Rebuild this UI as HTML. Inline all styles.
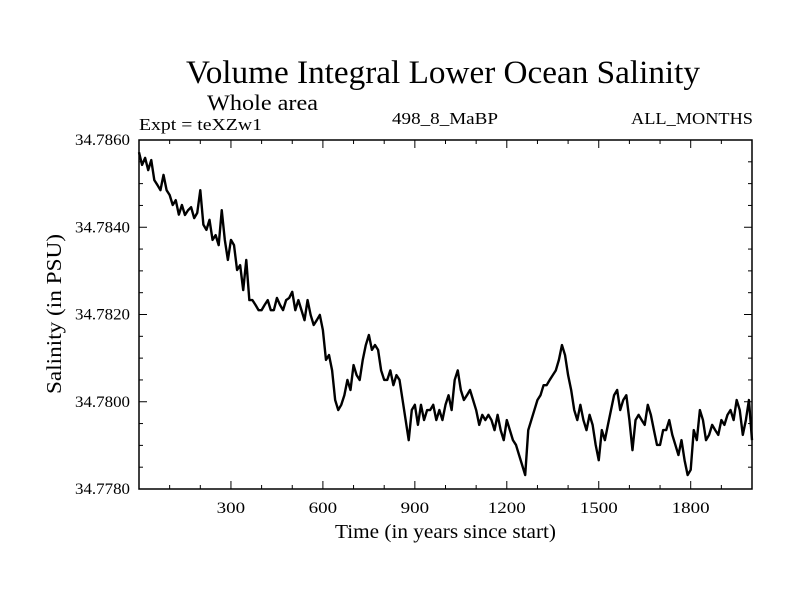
<!DOCTYPE html>
<html><head><meta charset="utf-8"><style>
html,body{margin:0;padding:0;background:#fff;}
svg{display:block;font-family:"Liberation Serif",serif;}
</style></head><body>
<svg id="chart" width="800" height="600" viewBox="0 0 800 600" xmlns="http://www.w3.org/2000/svg">
<text x="443" y="83" font-size="33" text-anchor="middle" textLength="514" lengthAdjust="spacingAndGlyphs">Volume Integral Lower Ocean Salinity</text>
<text x="207" y="110" font-size="22" textLength="111" lengthAdjust="spacingAndGlyphs">Whole area</text>
<text x="139" y="130" font-size="17" textLength="123" lengthAdjust="spacingAndGlyphs">Expt = teXZw1</text>
<text x="392" y="124" font-size="17" textLength="106" lengthAdjust="spacingAndGlyphs">498_8_MaBP</text>
<text x="631" y="124" font-size="17" textLength="122" lengthAdjust="spacingAndGlyphs">ALL_MONTHS</text>
<text x="335" y="538" font-size="20" textLength="221" lengthAdjust="spacingAndGlyphs">Time (in years since start)</text>
<text x="0" y="0" font-size="21" text-anchor="middle" textLength="160" lengthAdjust="spacingAndGlyphs" transform="translate(61,314) rotate(-90)">Salinity (in PSU)</text>
<g id="plot"></g>
</svg>
<script>
const years = [];
for (let i = 0; i <= 200; i++) years.push(i * 10);
const salinity = [34.78572,34.78543,34.78559,34.78531,34.78554,34.78508,34.78497,34.78485,34.78520,34.78485,
34.78474,34.78451,34.78462,34.78429,34.78451,34.78428,34.78439,34.78446,34.78421,34.78433,
34.78485,34.78406,34.78394,34.78417,34.78371,34.78382,34.78359,34.78439,34.78371,34.78325,
34.78371,34.78359,34.78302,34.78313,34.78256,34.78325,34.78233,34.78233,34.78222,34.78210,
34.78210,34.78222,34.78233,34.78210,34.78210,34.78238,34.78222,34.78210,34.78233,34.78238,
34.78252,34.78210,34.78233,34.78210,34.78187,34.78233,34.78199,34.78176,34.78187,34.78199,
34.78164,34.78096,34.78107,34.78072,34.78004,34.77981,34.77993,34.78015,34.78050,34.78027,
34.78084,34.78061,34.78050,34.78096,34.78130,34.78153,34.78119,34.78130,34.78119,34.78072,
34.78050,34.78050,34.78072,34.78038,34.78061,34.78050,34.78004,34.77958,34.77912,34.77981,
34.77993,34.77947,34.77993,34.77958,34.77981,34.77981,34.77993,34.77958,34.77981,34.77958,
34.77993,34.78015,34.77981,34.78050,34.78072,34.78027,34.78004,34.78015,34.78027,34.78004,
34.77981,34.77947,34.77970,34.77958,34.77970,34.77958,34.77935,34.77970,34.77935,34.77912,
34.77958,34.77935,34.77912,34.77901,34.77878,34.77855,34.77832,34.77935,34.77958,34.77981,
34.78004,34.78015,34.78038,34.78038,34.78050,34.78061,34.78072,34.78096,34.78130,34.78107,
34.78061,34.78027,34.77981,34.77958,34.77993,34.77958,34.77935,34.77970,34.77947,34.77901,
34.77866,34.77935,34.77912,34.77947,34.77981,34.78015,34.78027,34.77981,34.78004,34.78015,
34.77958,34.77889,34.77958,34.77970,34.77958,34.77947,34.77993,34.77970,34.77935,34.77901,
34.77901,34.77935,34.77935,34.77958,34.77924,34.77901,34.77878,34.77912,34.77866,34.77832,
34.77844,34.77935,34.77912,34.77981,34.77958,34.77912,34.77924,34.77947,34.77935,34.77924,
34.77958,34.77947,34.77970,34.77981,34.77958,34.78004,34.77981,34.77924,34.77958,34.78004,
34.77912];
const xTicks = [300,600,900,1200,1500,1800];
const yTickLabels = ["34.7780","34.7800","34.7820","34.7840","34.7860"];
const yTicks = [34.778,34.780,34.782,34.784,34.786];

const L=139,R=752,T=140,B=489, X0=0,X1=2000,Y0=34.778,Y1=34.786;
const sx=v=>L+(v-X0)/(X1-X0)*(R-L);
const sy=v=>B-(v-Y0)/(Y1-Y0)*(B-T);
const NS="http://www.w3.org/2000/svg";
const g=document.getElementById('plot');
function mk(tag,attrs){const e=document.createElementNS(NS,tag);for(const k in attrs)e.setAttribute(k,attrs[k]);g.appendChild(e);return e;}

let d="";
for(let i=0;i<years.length;i++){d+=(i?"L":"M")+sx(years[i]).toFixed(2)+","+sy(salinity[i]).toFixed(2);}
const line=mk('path',{d:d,fill:'none',stroke:'#000','stroke-width':2.4,'stroke-linejoin':'round'});



for(let v=100;v<2000;v+=100){
  const major=v%300===0, len=major?8:4;
  const t1=mk('line',{x1:sx(v),x2:sx(v),y1:B,y2:B-len,stroke:'#000','stroke-width':1});
  
  
  const t2=mk('line',{x1:sx(v),x2:sx(v),y1:T,y2:T+len,stroke:'#000','stroke-width':1});
  
  
}
for(let k=1;k<16;k++){
  const v=Y0+k*0.0005, major=k%4===0, len=major?8:4;
  const t1=mk('line',{x1:L,x2:L+len,y1:sy(v),y2:sy(v),stroke:'#000','stroke-width':1});
  
  
  const t2=mk('line',{x1:R,x2:R-len,y1:sy(v),y2:sy(v),stroke:'#000','stroke-width':1});
  
  
}
xTicks.forEach(v=>{
  const s=String(v), w=s.length*9.5;
  const t=mk('text',{x:sx(v)-w/2,y:B+24,'font-size':16,textLength:w,lengthAdjust:'spacingAndGlyphs'});
  t.textContent=s;
  
  
});
yTicks.forEach((v,i)=>{
  const t=mk('text',{x:75,y:sy(v)+5,'font-size':16,textLength:55,lengthAdjust:'spacingAndGlyphs'});
  t.textContent=yTickLabels[i];
  
  
});
const frame=mk('rect',{x:L,y:T,width:R-L,height:B-T,fill:'none',stroke:'#000','stroke-width':1.5});


</script>
</body></html>
